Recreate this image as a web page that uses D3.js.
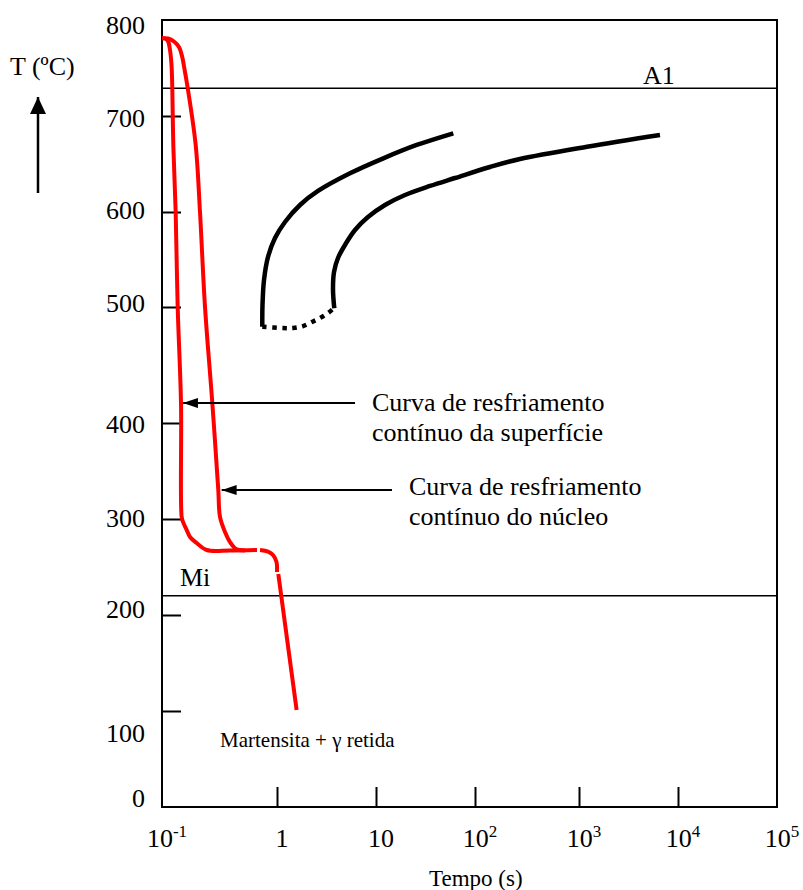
<!DOCTYPE html>
<html>
<head>
<meta charset="utf-8">
<script src="https://cdn.jsdelivr.net/npm/d3@7"></script>
<style>
  body { margin: 0; background: #fff; }
  text { font-family: "Liberation Serif", "Times New Roman", serif; fill: #000; }
</style>
</head>
<body>
<div id="chart"></div>
<script>
// axis values
var yTicks = [0, 100, 200, 300, 400, 500, 600, 700, 800];
var xTicks = [0.1, 1, 10, 100, 1000, 10000, 100000];
var xTickBase = ["10", "1", "10", "10", "10", "10", "10"];
var xTickExp = ["-1", "", "", "2", "3", "4", "5"];

// reference temperatures
var tA1 = 729;
var tMi = 220;

// surface cooling curve (time s, temperature C)
var surfTime = [0.1, 0.1062, 0.1128, 0.1174, 0.121, 0.1229, 0.1254, 0.1315, 0.1369, 0.1463, 0.1483, 0.1523, 0.164, 0.1752, 0.2002, 0.2446, 0.39, 0.67];
var surfTemp = [781, 780.7, 778, 768.7, 753, 729, 670, 600, 500, 417, 302, 297, 288.5, 281.3, 275, 267.7, 267.2, 267.7];

// core cooling curve
var coreTime = [0.1, 0.1128, 0.1271, 0.1405, 0.1493, 0.1563, 0.1673, 0.1963, 0.214, 0.2366, 0.2739, 0.3087, 0.3193, 0.353, 0.3903, 0.44, 0.5268];
var coreTemp = [781, 780.7, 777.6, 771.9, 762.5, 750, 729.2, 669.8, 600, 500, 417.2, 330.2, 302.1, 286.5, 276, 268.7, 267.2];

// continuation below Mi
var martTime1 = [0.7115, 0.835, 0.923, 0.99, 1.0];
var martTemp1 = [267.7, 266.1, 262.5, 255.2, 244.8];
var martTime2 = [1.031, 1.578];
var martTemp2 = [242.7, 101];

// transformation start / finish curves
var startTime = [0.745, 0.748, 0.7709, 0.8348, 0.9607, 1.2045, 1.708, 2.595, 5.463, 11.85, 25.77, 60.37];
var startTemp = [483, 502.1, 528.4, 552.6, 572.6, 589.5, 607.3, 621.9, 640.3, 655.9, 669.8, 682];
var endTime = [3.792, 3.679, 3.765, 4.132, 4.977, 6.137, 8.3, 12.33, 19.63, 35.12, 62.8, 139.4, 270.8, 1204, 6579];
var endTemp = [498.9, 517.9, 536.8, 551.6, 567.1, 581.1, 594.7, 607.3, 617.7, 627.1, 635.4, 646.9, 655.2, 668, 680.2];
var dotTime = [0.745, 1.15, 1.451, 1.831, 2.257, 2.719, 3.275, 3.765];
var dotTemp = [483, 481.9, 481.9, 483.6, 487.1, 490.5, 494.8, 499.1];

// label arrows: tail time, tip time, temperature
var arrowTail = [6.14, 14.5];
var arrowTip = [0.152, 0.330];
var arrowTemp = [417.2, 330.2];

var width = 803, height = 890;
var plotLeft = 162, plotRight = 777, plotTop = 20, plotBottom = 807;

var svg = d3.select("#chart").append("svg")
    .attr("width", width)
    .attr("height", height);

// uneven spacing, as in the original drawing
var xScale = d3.scaleLog()
    .domain(xTicks)
    .range([plotLeft, 277, 376, 475, 579, 678, plotRight]);
var yScale = d3.scaleLinear()
    .domain(yTicks)
    .range([plotBottom, 711, 615, 519, 423, 307, 212, 116, plotTop]);

var defs = svg.append("defs");
defs.append("marker")
    .attr("id", "head")
    .attr("markerUnits", "userSpaceOnUse")
    .attr("markerWidth", 15).attr("markerHeight", 10)
    .attr("refX", 15).attr("refY", 5)
    .attr("orient", "auto")
  .append("path").attr("d", "M0,0 L15,5 L0,10 Z").attr("fill", "#000");
defs.append("marker")
    .attr("id", "bighead")
    .attr("markerUnits", "userSpaceOnUse")
    .attr("markerWidth", 17).attr("markerHeight", 16)
    .attr("refX", 17).attr("refY", 8)
    .attr("orient", "auto")
  .append("path").attr("d", "M0,0 L17,8 L0,16 Z").attr("fill", "#000");

// frame
svg.append("rect")
    .attr("x", plotLeft).attr("y", plotTop)
    .attr("width", plotRight - plotLeft).attr("height", plotBottom - plotTop)
    .attr("fill", "none").attr("stroke", "#000").attr("stroke-width", 2);

// y ticks (inside)
svg.append("g")
    .attr("transform", "translate(" + plotLeft + ",0)")
    .call(d3.axisRight(yScale).tickValues(yTicks.slice(1, 8)).tickSize(19).tickSizeOuter(0).tickFormat(""))
    .call(function(g){ g.select(".domain").remove(); })
    .selectAll("line").attr("stroke", "#000").attr("stroke-width", 2);

// y labels (the original places them a bit loosely)
var yShift = [0, 31, 3, 8, 10, 5, 7, 11, 14];
svg.append("g").selectAll("text").data(yTicks).enter()
    .append("text")
    .attr("x", 145)
    .attr("y", function(d, i){ return yScale(d) + yShift[i]; })
    .attr("text-anchor", "end")
    .style("font-size", "26px")
    .text(function(d){ return d; });

// x ticks (inside)
svg.append("g")
    .attr("transform", "translate(0," + plotBottom + ")")
    .call(d3.axisTop(xScale).tickValues(xTicks.slice(1, 6)).tickSize(20).tickSizeOuter(0).tickFormat(""))
    .call(function(g){ g.select(".domain").remove(); })
    .selectAll("line").attr("stroke", "#000").attr("stroke-width", 2);

// x labels with exponents
var xl = svg.append("g").selectAll("text").data(xTicks).enter()
    .append("text")
    .attr("x", function(d){ return xScale(d) + 5; })
    .attr("y", 847)
    .attr("text-anchor", "middle")
    .style("font-size", "26px");
xl.append("tspan").text(function(d, i){ return xTickBase[i]; });
xl.append("tspan")
    .attr("dy", -10)
    .style("font-size", "17px")
    .text(function(d, i){ return xTickExp[i]; });

// A1 and Mi lines
svg.append("g").selectAll("line").data([tA1, tMi]).enter()
    .append("line")
    .attr("x1", plotLeft).attr("x2", plotRight)
    .attr("y1", function(d){ return yScale(d); })
    .attr("y2", function(d){ return yScale(d); })
    .attr("stroke", "#000").attr("stroke-width", 1.5);

var line = d3.line()
    .x(function(d){ return xScale(d[0]); })
    .y(function(d){ return yScale(d[1]); })
    .curve(d3.curveCatmullRom.alpha(0.5));

function pairs(a, b){ return a.map(function(v, i){ return [v, b[i]]; }); }

// black transformation curves
[pairs(startTime, startTemp), pairs(endTime, endTemp)].forEach(function(p){
    svg.append("path").datum(p)
        .attr("d", line)
        .attr("fill", "none").attr("stroke", "#000")
        .attr("stroke-width", 4.5);
});
svg.append("path").datum(pairs(dotTime, dotTemp))
    .attr("d", line)
    .attr("fill", "none").attr("stroke", "#000")
    .attr("stroke-width", 4.5)
    .attr("stroke-dasharray", "4.5,5.5");

// red cooling curves
[pairs(surfTime, surfTemp), pairs(coreTime, coreTemp), pairs(martTime1, martTemp1), pairs(martTime2, martTemp2)].forEach(function(p){
    svg.append("path").datum(p)
        .attr("d", line)
        .attr("fill", "none").attr("stroke", "#ff0000")
        .attr("stroke-width", 4);
});

// label arrows
svg.append("g").selectAll("line").data(arrowTemp).enter()
    .append("line")
    .attr("x1", function(d, i){ return xScale(arrowTail[i]); })
    .attr("x2", function(d, i){ return xScale(arrowTip[i]); })
    .attr("y1", function(d){ return yScale(d); })
    .attr("y2", function(d){ return yScale(d); })
    .attr("stroke", "#000").attr("stroke-width", 2)
    .attr("marker-end", "url(#head)");

// texts
function label(x, y, size, s){
    svg.append("text").attr("x", x).attr("y", y)
        .style("font-size", size + "px").text(s);
}
label(372, 411, 26, "Curva de resfriamento");
label(372, 441, 26, "contínuo da superfície");
label(409, 495, 26, "Curva de resfriamento");
label(409, 525, 26, "contínuo do núcleo");
label(643, 84, 26, "A1");
label(180, 586, 26, "Mi");
label(220, 747, 21, "Martensita + γ retida");
label(10, 75, 26, "T (ºC)");
label(429, 886, 23, "Tempo (s)");

// temperature arrow
svg.append("line")
    .attr("x1", 38).attr("y1", 193)
    .attr("x2", 38).attr("y2", 97)
    .attr("stroke", "#000").attr("stroke-width", 2.5)
    .attr("marker-end", "url(#bighead)");
</script>
</body>
</html>
